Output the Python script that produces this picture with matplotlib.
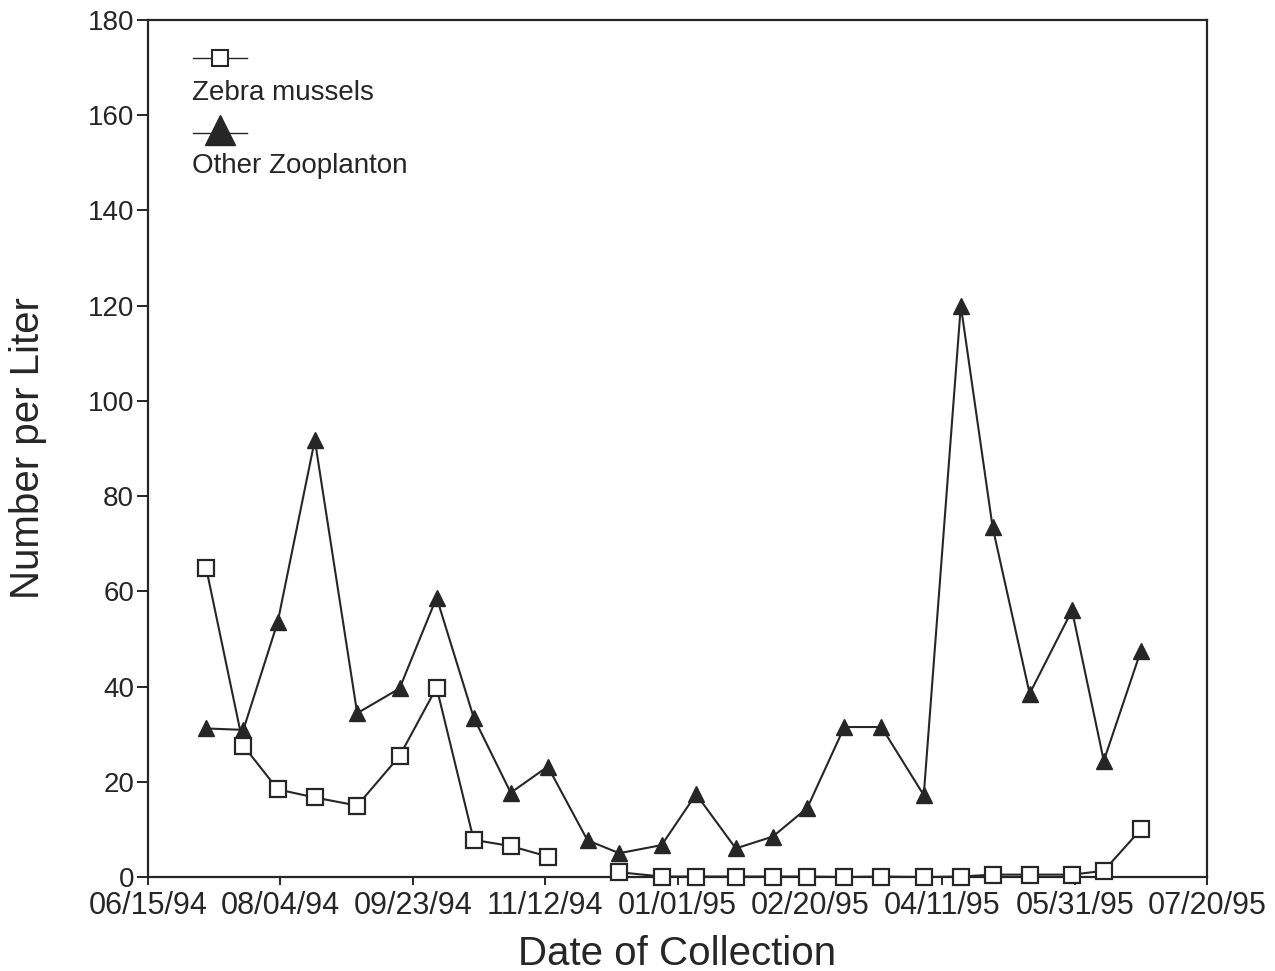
import numpy as np
import pandas as pd
import matplotlib
matplotlib.use("Agg")
import matplotlib.pyplot as plt
import matplotlib.dates as mdates

plt.rcParams['font.family'] = ['Liberation Sans', 'DejaVu Sans']

# Sampling dates (shared by both series)
dates = pd.to_datetime([
    "1994-07-07", "1994-07-21", "1994-08-03", "1994-08-17", "1994-09-02",
    "1994-09-18", "1994-10-02", "1994-10-16", "1994-10-30", "1994-11-13",
    "1994-11-28", "1994-12-10", "1994-12-26", "1995-01-08", "1995-01-23",
    "1995-02-06", "1995-02-19", "1995-03-05", "1995-03-19", "1995-04-04",
    "1995-04-18", "1995-04-30", "1995-05-14", "1995-05-30", "1995-06-11",
    "1995-06-25",
])

# Number per liter; zebra mussels were not counted on 11/28/94
zebra = [64.8, 27.6, 18.4, 16.7, 15.0, 25.4, 39.8, 7.8, 6.5, 4.3,
         np.nan, 1.0, 0.1, 0.1, 0.1, 0.1, 0.1, 0.0, 0.1, 0.0,
         0.1, 0.5, 0.5, 0.5, 1.3, 10.0]
other = [31.2, 30.9, 53.6, 91.8, 34.4, 39.6, 58.7, 33.5, 17.7, 23.2,
         7.7, 5.0, 6.7, 17.4, 6.0, 8.5, 14.5, 31.5, 31.5, 17.2,
         120.0, 73.5, 38.5, 56.0, 24.4, 47.5]

x_start, x_end = pd.Timestamp("1994-06-15"), pd.Timestamp("1995-07-20")
x_ticks = pd.date_range(x_start, x_end, freq="50D")
y_ticks = np.arange(0, 181, 20)

ink = "#262626"

fig = plt.figure(figsize=(12.75, 9.71), dpi=100)
ax = fig.add_axes([0.1161, 0.0968, 0.8306, 0.8826])

ax.plot(dates, other, color=ink, lw=1.5, marker="^", markersize=12,
        markerfacecolor=ink, markeredgecolor=ink, zorder=3, clip_on=False)
ax.plot(dates, zebra, color=ink, lw=1.5, marker="s", markersize=11,
        markerfacecolor="white", markeredgecolor=ink, markeredgewidth=1.6,
        zorder=4, clip_on=False)

ax.set_xlim(x_start, x_end)
ax.set_ylim(0, 180)
ax.set_xticks(x_ticks)
ax.xaxis.set_major_formatter(mdates.DateFormatter("%m/%d/%y"))
ax.set_yticks(y_ticks)

for side in ["left", "right", "top", "bottom"]:
    ax.spines[side].set_linewidth(1.6)
    ax.spines[side].set_color(ink)

ax.tick_params(axis="y", direction="out", length=8, width=1.4,
               labelsize=20, pad=2, colors=ink)
ax.tick_params(axis="x", direction="out", length=6, width=1.4,
               labelsize=22, pad=4, colors=ink)

ax.set_xlabel("Date of Collection", fontsize=29, color=ink)
ax.set_ylabel("Number per Liter", fontsize=29, color=ink)
ax.xaxis.set_label_coords(0.5, -0.068)
ax.yaxis.set_label_coords(-0.095, 0.5)

# Key in the upper-left corner: symbol above its name
ax.plot([0.0425, 0.0935], [0.9556, 0.9556], transform=ax.transAxes,
        color=ink, lw=1.0)
ax.plot([0.068], [0.9556], transform=ax.transAxes, linestyle="none",
        marker="s", markersize=12, markerfacecolor="white",
        markeredgecolor=ink, markeredgewidth=1.5)
ax.text(0.0415, 0.915, "Zebra mussels", transform=ax.transAxes,
        fontsize=20, color=ink, va="center", ha="left")

ax.plot([0.0425, 0.0935], [0.868, 0.868], transform=ax.transAxes,
        color=ink, lw=1.0)
ax.plot([0.068], [0.872], transform=ax.transAxes, linestyle="none",
        marker="^", markersize=22, markerfacecolor=ink, markeredgecolor=ink)
ax.text(0.0415, 0.8296, "Other Zooplanton", transform=ax.transAxes,
        fontsize=20, color=ink, va="center", ha="left")

fig.savefig("out.png", dpi=100, facecolor="white")
